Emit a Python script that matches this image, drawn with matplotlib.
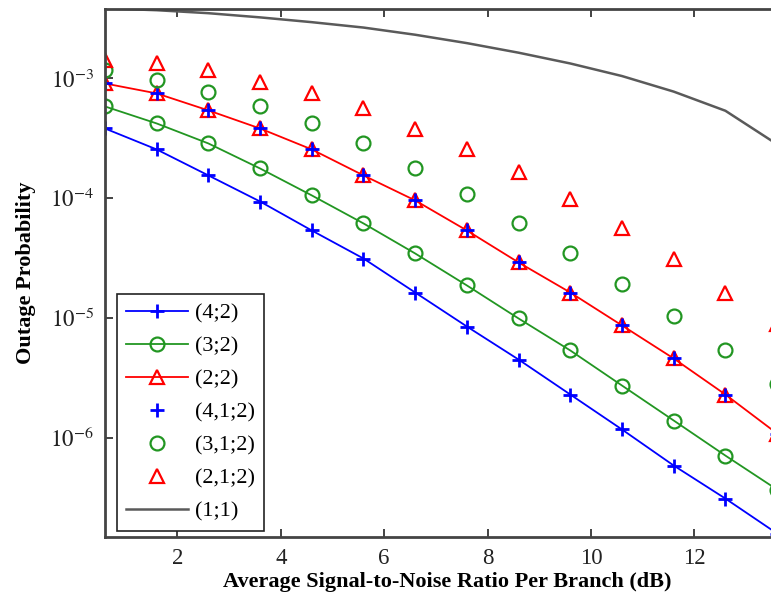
import numpy as np
import matplotlib
matplotlib.use("Agg")
import matplotlib.pyplot as plt
from matplotlib.ticker import FixedLocator, FuncFormatter, NullLocator

plt.rcParams['font.family'] = ['Liberation Serif', 'DejaVu Serif']
plt.rcParams['mathtext.fontset'] = 'stix'

# ---- data (log10 of outage probability) ----
snr_db = [0.6, 1.6, 2.6, 3.6, 4.6, 5.6, 6.6, 7.6, 8.6, 9.6, 10.6, 11.6, 12.6, 13.6]

log_p_42 = [-3.418, -3.593, -3.810, -4.028, -4.270, -4.504, -4.788, -5.072,
            -5.348, -5.640, -5.932, -6.233, -6.509, -6.801]
log_p_32 = [-3.234, -3.376, -3.543, -3.752, -3.977, -4.211, -4.462, -4.729,
            -5.005, -5.272, -5.565, -5.857, -6.150, -6.434]
log_p_22 = [-3.042, -3.125, -3.267, -3.418, -3.593, -3.810, -4.019, -4.270,
            -4.537, -4.788, -5.063, -5.339, -5.640, -5.966]
log_p_412 = [-3.042, -3.125, -3.267, -3.418, -3.593, -3.810, -4.019, -4.270,
             -4.537, -4.788, -5.063, -5.339, -5.640, -5.966]
log_p_312 = [-2.933, -3.017, -3.117, -3.226, -3.376, -3.543, -3.744, -3.961,
             -4.211, -4.454, -4.721, -4.988, -5.264, -5.548]
log_p_212 = [-2.85, -2.875, -2.93, -3.03, -3.125, -3.25, -3.42, -3.59,
             -3.785, -4.01, -4.245, -4.51, -4.79, -5.05]
log_p_11 = [-2.415, -2.43, -2.455, -2.49, -2.53, -2.575, -2.635, -2.705,
            -2.785, -2.875, -2.98, -3.11, -3.27, -3.55]

labels = ['(4;2)', '(3;2)', '(2;2)', '(4,1;2)', '(3,1;2)', '(2,1;2)', '(1;1)']
ytick_vals = [1e-3, 1e-4, 1e-5, 1e-6]
ytick_labels = [r'$10^{-3}$', r'$10^{-4}$', r'$10^{-5}$', r'$10^{-6}$']
xtick_vals = [2, 4, 6, 8, 10, 12]

def p(v):
    return 10.0 ** np.array(v)

fig = plt.figure(figsize=(7.71, 6.04), dpi=100)
ax = fig.add_axes([105 / 771, 1 - 537 / 604, 685 / 771, (537 - 9) / 604])

blue = '#0000ff'
green = '#229622'
red = '#ff0000'
gray = '#5a5a5a'

ax.plot(snr_db, p(log_p_42), color=blue, lw=1.3, marker='+', ms=10, mew=2.0, label=labels[0])
ax.plot(snr_db, p(log_p_32), color=green, lw=1.3, marker='o', ms=10, mfc='none', mew=1.6, label=labels[1])
ax.plot(snr_db, p(log_p_22), color=red, lw=1.3, marker='^', ms=10, mfc='none', mew=1.6, label=labels[2])
ax.plot(snr_db, p(log_p_412), color=blue, ls='none', marker='+', ms=10, mew=2.0, label=labels[3])
ax.plot(snr_db, p(log_p_312), color=green, ls='none', marker='o', ms=10, mfc='none', mew=1.6, label=labels[4])
ax.plot(snr_db, p(log_p_212), color=red, ls='none', marker='^', ms=10, mfc='none', mew=1.6, label=labels[5])
ax.plot(snr_db, p(log_p_11), color=gray, lw=1.8, label=labels[6])

ax.set_yscale('log')
ax.set_xlim(0.6, 0.6 + 685 / 51.7)
ax.set_ylim(10 ** -6.83, 10 ** -2.42)

ax.xaxis.set_major_locator(FixedLocator(xtick_vals))
ax.yaxis.set_major_locator(FixedLocator(ytick_vals))
ax.yaxis.set_minor_locator(NullLocator())
ax.yaxis.set_major_formatter(FuncFormatter(lambda v, pos: ytick_labels[ytick_vals.index(min(ytick_vals, key=lambda t: abs(np.log10(t) - np.log10(v))))]))
ax.tick_params(axis='both', which='major', direction='in', length=6, width=1.2,
               labelsize=16.5, top=True, right=True, colors='#222222')
ax.tick_params(axis='y', pad=8)
ax.tick_params(axis='x', pad=8)
for s in ax.spines.values():
    s.set_color('#444444')
    s.set_linewidth(2.0)

ax.set_xlabel('Average Signal-to-Noise Ratio Per Branch (dB)', fontsize=16, fontweight='bold', labelpad=2)
ax.set_ylabel('Outage Probability', fontsize=16, fontweight='bold', labelpad=10)

leg = ax.legend(loc='lower left', bbox_to_anchor=(0.018, 0.012), fontsize=16,
                frameon=True, fancybox=False, edgecolor='#222222', framealpha=1,
                handlelength=2.8, handletextpad=0.3, labelspacing=0.56,
                borderpad=0.4, borderaxespad=0.0)
leg.get_frame().set_linewidth(1.2)

fig.savefig('out.png', dpi=100)
